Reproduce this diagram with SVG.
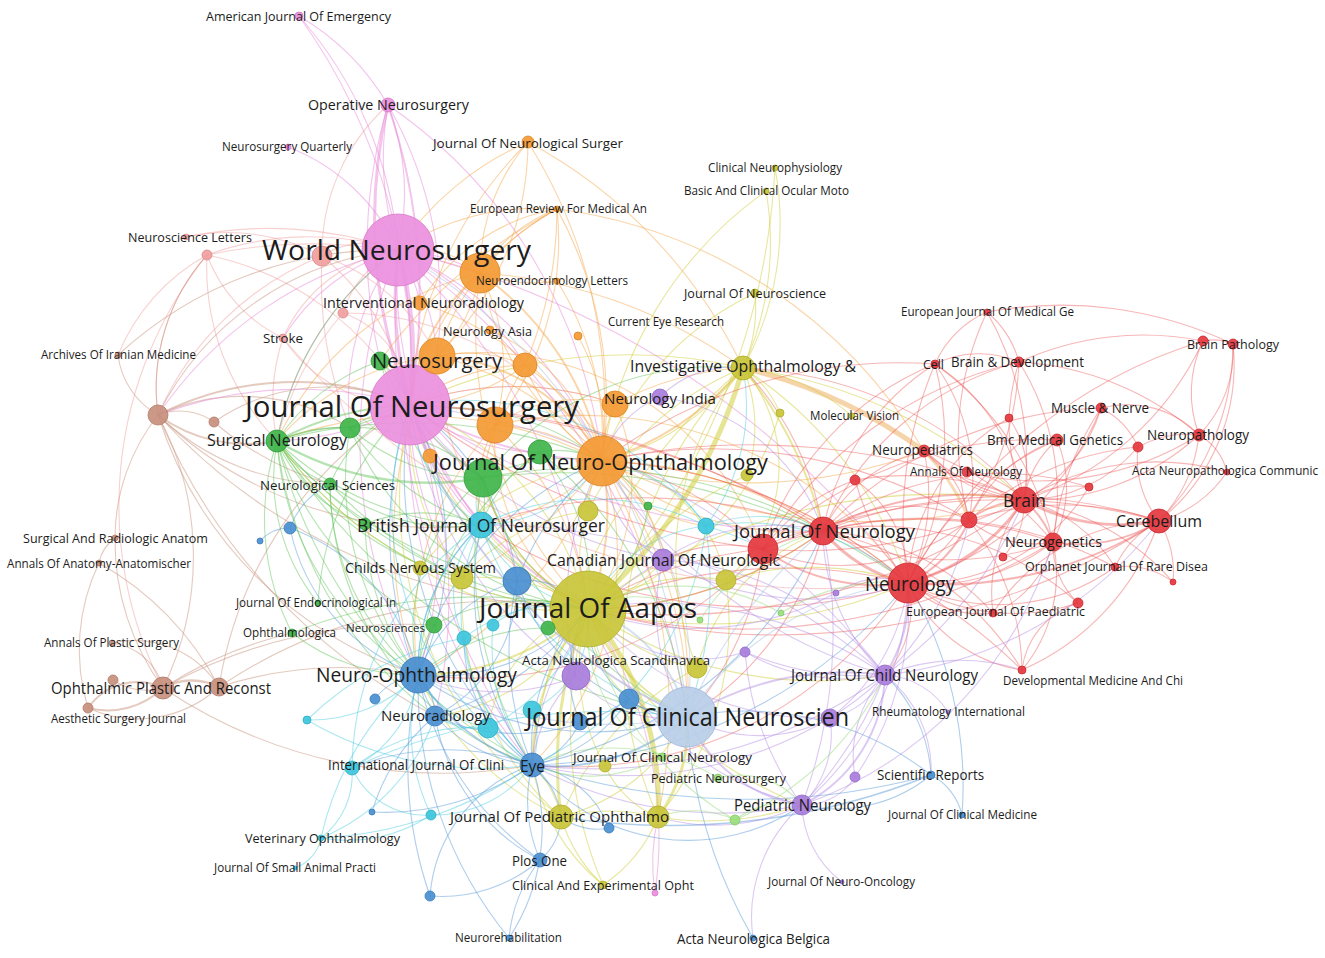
<svg xmlns="http://www.w3.org/2000/svg" width="1325" height="958" viewBox="0 0 1325 958">
<style>
.e path{fill:none;stroke-width:1.1;stroke-linecap:round}
.pk path{stroke:#e88ad9;stroke-opacity:.5}
.or path{stroke:#f4a240;stroke-opacity:.45}
.gr path{stroke:#5cc052;stroke-opacity:.45}
.ye path{stroke:#d2cf3e;stroke-opacity:.5}
.rd path{stroke:#ec5050;stroke-opacity:.42}
.bl path{stroke:#4d92d4;stroke-opacity:.45}
.cy path{stroke:#48c9de;stroke-opacity:.45}
.pu path{stroke:#b288e2;stroke-opacity:.45}
.lb path{stroke:#a9c4e6;stroke-opacity:.5}
.br path{stroke:#c9957f;stroke-opacity:.5}
.sa path{stroke:#f2a3a3;stroke-opacity:.5}
.lg path{stroke:#98dc7c;stroke-opacity:.5}
.n circle{stroke-width:.8;fill-opacity:.92}
.c-pk{fill:#ec90de;stroke:#d877c8}
.c-or{fill:#f49a34;stroke:#dc8420}
.c-gr{fill:#3fb54a;stroke:#2f9c3a}
.c-ye{fill:#c9c53a;stroke:#b0ac28}
.c-rd{fill:#e5383f;stroke:#c9282f}
.c-bl{fill:#4a8fd0;stroke:#3a78b8}
.c-cy{fill:#3dc6dc;stroke:#2aaec4}
.c-pu{fill:#a97ddc;stroke:#9066c4}
.c-lb{fill:#b9cee8;stroke:#9fb8da}
.c-brn{fill:#c8907e;stroke:#b07866}
.c-sa{fill:#f0a0a0;stroke:#dc8888}
.c-lg{fill:#9ade7c;stroke:#80c864}
.lbl text{font-family:"Open Sans","Noto Sans","DejaVu Sans",sans-serif;fill:#1c1c1c}
</style>
<rect width="1325" height="958" fill="#ffffff"/>
<g id="connectors" class="e">
<g class="sa">
<path d="M207 255A300 300 0 0 1 398 250"/><path d="M207 255A300 300 0 0 1 410 405"/><path d="M207 255A200 200 0 0 0 158 415"/><path d="M207 255A150 150 0 0 0 283 338"/><path d="M283 338A150 150 0 0 1 398 250"/><path d="M283 338A150 150 0 0 0 410 405"/><path d="M343 313A100 100 0 0 1 398 250"/><path d="M322 256A80 80 0 0 1 398 250"/><path d="M322 256A250 250 0 0 1 410 405"/><path d="M186 237A200 200 0 0 1 322 256"/><path d="M207 255A250 250 0 0 0 277 441"/><path d="M186 237A400 400 0 0 1 398 250"/><path d="M322 256A200 200 0 0 1 437 356"/><path d="M343 313A100 100 0 0 1 410 405"/><path d="M207 255A200 200 0 0 0 118 355"/><path d="M322 256A200 200 0 0 1 388 105"/><path d="M207 255A400 400 0 0 0 163 688"/><path d="M283 338A200 200 0 0 0 277 441"/><path d="M343 313A300 300 0 0 0 277 441"/><path d="M322 256A300 300 0 0 0 158 415"/><path d="M283 338A700 700 0 0 0 908 583"/><path d="M343 313A300 300 0 0 1 602 461"/><path d="M322 256A400 400 0 0 0 350 428"/><path d="M207 255A500 500 0 0 1 480 273"/>
</g>
<g class="br">
<path d="M158 415A300 300 0 0 1 410 405" style="stroke-width:2"/><path d="M158 415A300 300 0 0 1 398 250"/><path d="M158 415A150 150 0 0 0 277 441" style="stroke-width:2"/><path d="M158 415A80 80 0 0 1 118 355"/><path d="M158 415A60 60 0 0 1 214 422"/><path d="M158 415A400 400 0 0 0 418 675"/><path d="M158 415A600 600 0 0 0 588 609"/><path d="M158 415A300 300 0 0 1 163 688"/><path d="M163 688A60 60 0 0 1 219 687" style="stroke-width:2.5"/><path d="M163 688A80 80 0 0 1 88 708" style="stroke-width:2"/><path d="M163 688A60 60 0 0 0 88 708" style="stroke-width:2"/><path d="M163 688A60 60 0 0 0 112 643"/><path d="M163 688A60 60 0 0 1 113 680"/><path d="M163 688A250 250 0 0 1 115 538"/><path d="M115 538A40 40 0 0 0 99 563"/><path d="M99 563A200 200 0 0 0 88 708"/><path d="M219 687A400 400 0 0 1 418 675"/><path d="M219 687A400 400 0 0 1 410 405"/><path d="M163 688A500 500 0 0 1 434 625"/><path d="M163 688A500 500 0 0 0 532 765"/><path d="M112 643A100 100 0 0 1 219 687"/><path d="M115 538A200 200 0 0 1 158 415"/><path d="M158 415A400 400 0 0 0 481 525"/><path d="M158 415A200 200 0 0 1 207 255"/><path d="M88 708A120 120 0 0 0 219 687"/><path d="M158 415A600 600 0 0 0 435 716"/><path d="M219 687A500 500 0 0 1 588 609"/><path d="M118 355A400 400 0 0 1 398 250"/><path d="M214 422A200 200 0 0 1 410 405"/><path d="M163 688A400 400 0 0 1 292 633"/><path d="M214 422A300 300 0 0 0 330 484"/><path d="M99 563A300 300 0 0 1 219 687"/><path d="M158 415A250 250 0 0 0 330 484"/><path d="M158 415A200 200 0 0 1 350 428"/>
</g>
<g class="pk">
<path d="M388 105A300 300 0 0 0 398 250"/><path d="M388 105A500 500 0 0 0 410 405" style="stroke-width:3"/><path d="M388 105A600 600 0 0 1 410 405" style="stroke-width:2"/><path d="M299 16A250 250 0 0 1 388 105"/><path d="M299 16A400 400 0 0 1 398 250"/><path d="M288 147A200 200 0 0 1 398 250"/><path d="M398 250A400 400 0 0 1 410 405" style="stroke-width:5"/><path d="M398 250A400 400 0 0 0 410 405" style="stroke-width:3"/><path d="M398 250A400 400 0 0 1 602 461"/><path d="M398 250A200 200 0 0 1 480 273"/><path d="M398 250A200 200 0 0 1 437 356"/><path d="M410 405A400 400 0 0 0 602 461" style="stroke-width:2"/><path d="M410 405A400 400 0 0 0 588 609" style="stroke-width:2"/><path d="M410 405A500 500 0 0 0 687 717"/><path d="M410 405A300 300 0 0 1 277 441"/><path d="M410 405A400 400 0 0 1 418 675"/><path d="M398 250A300 300 0 0 0 277 441"/><path d="M398 250A700 700 0 0 1 687 717"/><path d="M398 250A400 400 0 0 0 158 415"/><path d="M410 405A400 400 0 0 0 158 415"/><path d="M655 893A200 200 0 0 1 658 817"/><path d="M655 893A400 400 0 0 0 588 609"/><path d="M398 250A200 200 0 0 0 283 338"/><path d="M410 405A300 300 0 0 1 615 404"/><path d="M388 105A400 400 0 0 1 437 356"/><path d="M398 250A150 150 0 0 1 420 303"/><path d="M388 105A250 250 0 0 1 398 250"/><path d="M398 250A800 800 0 0 0 532 765"/><path d="M410 405A500 500 0 0 0 532 765"/><path d="M299 16A600 600 0 0 1 410 405"/><path d="M398 250A900 900 0 0 1 908 583"/><path d="M388 105A500 500 0 0 0 380 361"/><path d="M398 250A300 300 0 0 1 525 365"/><path d="M410 405A300 300 0 0 0 481 525"/><path d="M410 405A200 200 0 0 0 483 478"/><path d="M398 250A250 250 0 0 0 350 428"/><path d="M410 405A700 700 0 0 0 823 531"/><path d="M410 405A300 300 0 0 0 462 578"/><path d="M410 405A300 300 0 0 1 517 581"/><path d="M410 405A500 500 0 0 1 435 716"/><path d="M398 250A500 500 0 0 0 418 675"/><path d="M398 250A600 600 0 0 1 588 609"/><path d="M398 250A400 400 0 0 0 481 525"/><path d="M410 405A200 200 0 0 0 540 452"/><path d="M388 105A500 500 0 0 1 602 461"/>
</g>
<g class="or">
<path d="M602 461A300 300 0 0 1 480 273"/><path d="M602 461A300 300 0 0 0 437 356"/><path d="M602 461A200 200 0 0 1 525 365"/><path d="M602 461A200 200 0 0 0 495 425"/><path d="M602 461A150 150 0 0 1 615 404"/><path d="M602 461A300 300 0 0 0 743 368" style="stroke-width:2"/><path d="M602 461A250 250 0 0 1 588 609" style="stroke-width:2"/><path d="M602 461A400 400 0 0 1 687 717"/><path d="M602 461A400 400 0 0 1 823 531"/><path d="M602 461A500 500 0 0 1 908 583"/><path d="M528 142A300 300 0 0 0 398 250"/><path d="M528 142A400 400 0 0 0 410 405"/><path d="M528 142A200 200 0 0 0 480 273"/><path d="M528 142A300 300 0 0 1 437 356"/><path d="M528 142A500 500 0 0 1 602 461"/><path d="M557 209A150 150 0 0 0 480 273"/><path d="M557 209A400 400 0 0 1 602 461"/><path d="M557 209A250 250 0 0 0 437 356"/><path d="M557 209A300 300 0 0 0 410 405"/><path d="M557 209A300 300 0 0 1 495 425"/><path d="M557 209A200 200 0 0 0 420 303"/><path d="M557 209A250 250 0 0 0 398 250"/><path d="M557 209A400 400 0 0 1 525 365"/><path d="M557 209A500 500 0 0 0 380 361"/><path d="M480 273A150 150 0 0 1 437 356"/><path d="M480 273A200 200 0 0 1 495 425"/><path d="M480 273A200 200 0 0 0 410 405" style="stroke-width:2"/><path d="M525 365A150 150 0 0 0 437 356"/><path d="M525 365A200 200 0 0 1 410 405"/><path d="M615 404A150 150 0 0 0 495 425"/><path d="M615 404A300 300 0 0 0 410 405"/><path d="M490 330A200 200 0 0 1 602 461"/><path d="M420 303A300 300 0 0 1 602 461"/><path d="M578 336A200 200 0 0 1 602 461"/><path d="M430 456A100 100 0 0 1 410 405"/><path d="M430 456A300 300 0 0 0 588 609"/><path d="M743 368A500 500 0 0 1 924 451" style="stroke:#f0b870;stroke-width:5;stroke-opacity:.6"/><path d="M924 451A200 200 0 0 1 969 520" style="stroke:#f0b870;stroke-width:3;stroke-opacity:.5"/><path d="M602 461A500 500 0 0 0 924 451"/><path d="M602 461A400 400 0 0 0 277 441"/><path d="M437 356A250 250 0 0 0 277 441"/><path d="M602 461A400 400 0 0 1 418 675"/><path d="M480 273A100 100 0 0 0 398 250"/><path d="M557 281A150 150 0 0 1 480 273"/><path d="M557 281A300 300 0 0 1 602 461"/><path d="M495 425A300 300 0 0 1 588 609"/><path d="M602 461A500 500 0 0 1 658 817"/><path d="M602 461A200 200 0 0 1 481 525"/><path d="M437 356A300 300 0 0 0 588 609"/><path d="M480 273A300 300 0 0 1 602 461" style="stroke-width:2"/><path d="M437 356A200 200 0 0 1 602 461" style="stroke-width:2"/><path d="M525 365A200 200 0 0 0 410 405"/><path d="M495 425A200 200 0 0 0 588 609"/><path d="M480 273A300 300 0 0 0 277 441"/><path d="M528 142A500 500 0 0 1 743 368"/><path d="M557 209A500 500 0 0 1 924 451"/><path d="M602 461A600 600 0 0 0 1024 500"/><path d="M615 404A300 300 0 0 1 743 368"/><path d="M480 273A500 500 0 0 1 743 368"/><path d="M437 356A400 400 0 0 0 418 675"/><path d="M495 425A300 300 0 0 0 418 675"/><path d="M525 365A400 400 0 0 1 687 717"/><path d="M602 461A300 300 0 0 1 532 765"/><path d="M602 461A150 150 0 0 1 663 560"/><path d="M602 461A150 150 0 0 0 706 526"/><path d="M495 425A150 150 0 0 0 481 525"/><path d="M480 273A400 400 0 0 0 588 609"/><path d="M602 461A300 300 0 0 0 823 531"/><path d="M525 365A300 300 0 0 0 483 478"/><path d="M615 404A200 200 0 0 1 588 609"/><path d="M437 356A300 300 0 0 1 763 549"/><path d="M495 425A400 400 0 0 1 908 583"/><path d="M602 461A400 400 0 0 1 462 578"/>
</g>
<g class="gr">
<path d="M277 441A300 300 0 0 1 410 405" style="stroke-width:2"/><path d="M277 441A150 150 0 0 1 350 428"/><path d="M277 441A200 200 0 0 1 380 361"/><path d="M277 441A300 300 0 0 0 483 478" style="stroke-width:2.5"/><path d="M277 441A100 100 0 0 0 330 484"/><path d="M277 441A300 300 0 0 0 481 525"/><path d="M277 441A400 400 0 0 0 588 609"/><path d="M277 441A300 300 0 0 0 418 675"/><path d="M277 441A500 500 0 0 1 602 461"/><path d="M277 441A300 300 0 0 0 462 578"/><path d="M277 441A150 150 0 0 0 365 524"/><path d="M277 441A300 300 0 0 0 434 625"/><path d="M277 441A500 500 0 0 0 532 765"/><path d="M277 441A600 600 0 0 0 687 717"/><path d="M350 428A200 200 0 0 0 483 478"/><path d="M483 478A200 200 0 0 1 602 461"/><path d="M483 478A200 200 0 0 0 588 609"/><path d="M540 452A100 100 0 0 1 602 461"/><path d="M540 452A200 200 0 0 1 588 609"/><path d="M330 484A150 150 0 0 1 410 405"/><path d="M330 484A400 400 0 0 0 588 609"/><path d="M330 484A250 250 0 0 0 418 675"/><path d="M365 524A150 150 0 0 1 481 525"/><path d="M434 625A200 200 0 0 1 588 609"/><path d="M434 625A100 100 0 0 0 418 675"/><path d="M292 633A200 200 0 0 0 418 675"/><path d="M292 633A500 500 0 0 1 588 609"/><path d="M318 603A300 300 0 0 1 410 405"/><path d="M548 628A100 100 0 0 1 588 609"/><path d="M483 478A400 400 0 0 0 687 717"/><path d="M380 361A100 100 0 0 1 410 405"/><path d="M350 428A300 300 0 0 0 418 675"/><path d="M483 478A600 600 0 0 1 908 583"/><path d="M483 478A400 400 0 0 0 532 765"/><path d="M277 441A300 300 0 0 1 398 250"/><path d="M540 452A400 400 0 0 1 687 717"/><path d="M330 484A200 200 0 0 0 481 525"/><path d="M277 441A250 250 0 0 0 292 633"/><path d="M277 441A400 400 0 0 0 435 716"/><path d="M350 428A250 250 0 0 0 481 525"/><path d="M277 441A400 400 0 0 0 517 581"/><path d="M350 428A250 250 0 0 1 602 461"/><path d="M483 478A300 300 0 0 1 743 368"/><path d="M540 452A300 300 0 0 0 418 675"/><path d="M648 506A150 150 0 0 1 588 609"/><path d="M380 361A300 300 0 0 0 483 478"/><path d="M277 441A200 200 0 0 0 318 603"/><path d="M365 524A250 250 0 0 0 418 675"/><path d="M277 441A500 500 0 0 0 462 578"/><path d="M483 478A500 500 0 0 1 823 531"/><path d="M483 478A200 200 0 0 0 418 675"/><path d="M483 478A150 150 0 0 1 462 578"/><path d="M540 452A150 150 0 0 0 481 525"/><path d="M350 428A300 300 0 0 0 588 609"/><path d="M330 484A300 300 0 0 0 532 765"/><path d="M648 506A150 150 0 0 0 602 461"/><path d="M548 628A200 200 0 0 0 418 675"/><path d="M277 441A200 200 0 0 1 483 478"/><path d="M380 361A400 400 0 0 0 588 609"/><path d="M350 428A150 150 0 0 1 410 405"/>
</g>
<g class="ye">
<path d="M588 609A500 500 0 0 0 743 368" style="stroke-width:5;stroke-opacity:.55"/><path d="M588 609A400 400 0 0 0 561 817" style="stroke-width:3"/><path d="M588 609A300 300 0 0 1 658 817" style="stroke-width:5;stroke-opacity:.55"/><path d="M588 609A150 150 0 0 1 588 511"/><path d="M588 609A200 200 0 0 1 726 580"/><path d="M588 609A200 200 0 0 0 697 668"/><path d="M588 609A200 200 0 0 0 687 717" style="stroke-width:2"/><path d="M588 609A200 200 0 0 0 462 578"/><path d="M588 609A250 250 0 0 1 418 675" style="stroke-width:2"/><path d="M588 609A250 250 0 0 0 532 765" style="stroke-width:2"/><path d="M588 609A400 400 0 0 0 823 531"/><path d="M588 609A500 500 0 0 0 908 583"/><path d="M588 609A150 150 0 0 0 663 560"/><path d="M588 609A400 400 0 0 0 802 805"/><path d="M743 368A300 300 0 0 0 775 168"/><path d="M766 191A300 300 0 0 1 743 368"/><path d="M766 191A400 400 0 0 0 602 461"/><path d="M775 168A700 700 0 0 1 588 609"/><path d="M755 293A150 150 0 0 1 743 368"/><path d="M755 293A300 300 0 0 0 602 461"/><path d="M852 416A200 200 0 0 0 743 368"/><path d="M743 368A100 100 0 0 1 780 413"/><path d="M743 368A150 150 0 0 1 747 475"/><path d="M743 368A250 250 0 0 1 602 461"/><path d="M561 817A100 100 0 0 0 532 765"/><path d="M658 817A100 100 0 0 1 605 766"/><path d="M603 885A150 150 0 0 1 561 817"/><path d="M603 885A400 400 0 0 1 588 609"/><path d="M603 885A200 200 0 0 1 532 765"/><path d="M603 885A150 150 0 0 0 658 817"/><path d="M605 766A200 200 0 0 1 588 609"/><path d="M561 817A200 200 0 0 0 687 717"/><path d="M743 368A400 400 0 0 1 908 583"/><path d="M658 817A150 150 0 0 0 687 717" style="stroke-width:3"/><path d="M561 817A200 200 0 0 1 658 817"/><path d="M588 511A100 100 0 0 1 602 461"/><path d="M462 578A250 250 0 0 1 410 405"/><path d="M420 568A250 250 0 0 0 588 609"/><path d="M743 368A500 500 0 0 0 410 405"/><path d="M743 368A400 400 0 0 1 823 531" style="stroke-width:2"/><path d="M726 580A150 150 0 0 0 743 368"/><path d="M697 668A300 300 0 0 1 743 368"/><path d="M588 609A400 400 0 0 1 747 475"/><path d="M658 817A400 400 0 0 1 743 368"/><path d="M561 817A300 300 0 0 1 418 675"/><path d="M658 817A300 300 0 0 0 726 580"/><path d="M588 609A300 300 0 0 1 481 525"/><path d="M462 578A200 200 0 0 1 588 511"/><path d="M420 568A300 300 0 0 1 602 461"/><path d="M743 368A600 600 0 0 0 532 765"/><path d="M780 413A300 300 0 0 1 588 609"/><path d="M743 368A500 500 0 0 1 1024 500"/><path d="M588 609A300 300 0 0 0 410 405"/><path d="M588 609A200 200 0 0 1 483 478"/><path d="M588 609A200 200 0 0 1 435 716"/><path d="M588 609A150 150 0 0 0 488 728"/><path d="M588 609A120 120 0 0 0 629 699"/><path d="M588 609A400 400 0 0 0 885 675"/><path d="M588 609A400 400 0 0 1 277 441"/><path d="M697 668A200 200 0 0 1 823 531"/><path d="M726 580A300 300 0 0 1 908 583"/><path d="M697 668A300 300 0 0 0 561 817"/><path d="M588 511A300 300 0 0 1 743 368"/><path d="M588 609A600 600 0 0 1 1024 500"/><path d="M561 817A400 400 0 0 1 410 405"/><path d="M658 817A300 300 0 0 0 802 805"/><path d="M462 578A300 300 0 0 0 561 817"/><path d="M726 580A150 150 0 0 0 602 461"/>
</g>
<g class="rd">
<path d="M1024 500A200 200 0 0 0 1159 521" style="stroke-width:3"/><path d="M1024 500A100 100 0 0 1 1053 542" style="stroke-width:2"/><path d="M1024 500A200 200 0 0 1 908 583" style="stroke-width:3"/><path d="M1024 500A300 300 0 0 0 823 531" style="stroke-width:2"/><path d="M1024 500A100 100 0 0 0 969 520" style="stroke-width:2"/><path d="M1024 500A100 100 0 0 1 1057 440"/><path d="M1024 500A150 150 0 0 0 1101 408"/><path d="M1024 500A250 250 0 0 0 1199 435"/><path d="M1024 500A200 200 0 0 1 1019 362"/><path d="M1024 500A200 200 0 0 0 935 364"/><path d="M1024 500A150 150 0 0 1 924 451"/><path d="M1024 500A100 100 0 0 0 967 472"/><path d="M1024 500A100 100 0 0 1 1089 487"/><path d="M1024 500A150 150 0 0 1 1115 567"/><path d="M1024 500A150 150 0 0 0 993 613"/><path d="M1024 500A150 150 0 0 0 1138 447"/><path d="M1024 500A300 300 0 0 0 1203 341"/><path d="M1159 521A150 150 0 0 1 1053 542" style="stroke-width:2"/><path d="M1159 521A400 400 0 0 1 908 583" style="stroke-width:2"/><path d="M1159 521A150 150 0 0 0 1199 435"/><path d="M1159 521A100 100 0 0 1 1138 447"/><path d="M1159 521A120 120 0 0 0 1227 472"/><path d="M1159 521A100 100 0 0 1 1173 582"/><path d="M1159 521A250 250 0 0 0 1233 344"/><path d="M1159 521A500 500 0 0 0 823 531"/><path d="M1159 521A100 100 0 0 0 1115 567"/><path d="M908 583A150 150 0 0 1 823 531" style="stroke-width:3"/><path d="M908 583A200 200 0 0 1 763 549" style="stroke-width:2"/><path d="M908 583A120 120 0 0 0 969 520" style="stroke-width:2"/><path d="M908 583A200 200 0 0 0 1053 542"/><path d="M908 583A100 100 0 0 0 993 613"/><path d="M908 583A150 150 0 0 0 1022 670"/><path d="M908 583A200 200 0 0 0 924 451"/><path d="M908 583A300 300 0 0 0 935 364"/><path d="M908 583A300 300 0 0 0 1019 362"/><path d="M908 583A200 200 0 0 0 1078 603"/><path d="M908 583A500 500 0 0 0 588 609"/><path d="M908 583A900 900 0 0 0 410 405"/><path d="M908 583A500 500 0 0 0 602 461"/><path d="M823 531A100 100 0 0 0 763 549"/><path d="M823 531A150 150 0 0 1 969 520"/><path d="M823 531A250 250 0 0 1 935 364"/><path d="M823 531A150 150 0 0 1 924 451"/><path d="M823 531A800 800 0 0 0 410 405"/><path d="M763 549A700 700 0 0 1 410 405"/><path d="M763 549A300 300 0 0 0 602 461"/><path d="M969 520A100 100 0 0 0 1053 542"/><path d="M969 520A150 150 0 0 1 1057 440"/><path d="M969 520A200 200 0 0 0 935 364"/><path d="M969 520A300 300 0 0 1 987 312"/><path d="M987 312A100 100 0 0 1 1019 362"/><path d="M987 312A100 100 0 0 0 935 364"/><path d="M987 312A300 300 0 0 1 1024 500"/><path d="M1203 341A50 50 0 0 1 1233 344"/><path d="M1203 341A120 120 0 0 0 1199 435"/><path d="M1203 341A300 300 0 0 0 1019 362"/><path d="M1233 344A120 120 0 0 1 1199 435"/><path d="M1233 344A200 200 0 0 1 1159 521"/><path d="M1101 408A100 100 0 0 1 1199 435"/><path d="M1101 408A80 80 0 0 1 1138 447"/><path d="M1057 440A120 120 0 0 1 1053 542"/><path d="M1009 418A100 100 0 0 1 1024 500"/><path d="M1009 418A200 200 0 0 0 908 583"/><path d="M924 451A100 100 0 0 1 969 520"/><path d="M1053 542A100 100 0 0 1 993 613"/><path d="M1053 542A80 80 0 0 0 1078 603"/><path d="M1053 542A150 150 0 0 1 1022 670"/><path d="M1115 567A80 80 0 0 1 1173 582"/><path d="M1003 557A80 80 0 0 0 1024 500"/><path d="M855 480A120 120 0 0 1 908 583"/><path d="M908 583A100 100 0 0 1 885 675"/><path d="M935 364A100 100 0 0 1 1019 362"/><path d="M1019 362A300 300 0 0 1 1199 435"/><path d="M1199 435A60 60 0 0 1 1227 472"/><path d="M1024 500A250 250 0 0 1 1227 472"/><path d="M1199 435A100 100 0 0 0 1138 447"/><path d="M1022 670A80 80 0 0 1 1078 603"/><path d="M935 364A500 500 0 0 0 602 461"/><path d="M1019 362A300 300 0 0 0 823 531"/><path d="M1019 362A250 250 0 0 1 1053 542"/><path d="M935 364A300 300 0 0 1 1053 542"/><path d="M1101 408A300 300 0 0 1 908 583"/><path d="M1057 440A300 300 0 0 0 908 583"/><path d="M969 520A300 300 0 0 1 1159 521"/><path d="M823 531A300 300 0 0 0 1053 542"/><path d="M1203 341A500 500 0 0 0 908 583"/><path d="M1233 344A400 400 0 0 0 987 312"/><path d="M1089 487A200 200 0 0 1 908 583"/><path d="M763 549A400 400 0 0 0 588 609"/><path d="M823 531A400 400 0 0 1 588 609"/><path d="M1024 500A400 400 0 0 0 743 368"/><path d="M1022 670A250 250 0 0 0 1159 521"/><path d="M993 613A200 200 0 0 1 1159 521"/><path d="M924 451A300 300 0 0 1 1053 542"/><path d="M967 472A300 300 0 0 0 1199 435"/><path d="M1115 567A200 200 0 0 1 908 583"/><path d="M1173 582A250 250 0 0 0 1024 500"/><path d="M908 583A600 600 0 0 1 1022 670"/><path d="M935 364A400 400 0 0 0 908 583"/><path d="M1053 542A300 300 0 0 1 1101 408"/><path d="M763 549A300 300 0 0 1 687 717"/><path d="M823 531A300 300 0 0 1 687 717"/><path d="M908 583A400 400 0 0 1 532 765"/><path d="M763 549A150 150 0 0 0 663 560"/><path d="M823 531A300 300 0 0 0 743 368"/><path d="M1024 500A700 700 0 0 0 602 461"/><path d="M1024 500A600 600 0 0 1 588 609"/><path d="M1159 521A700 700 0 0 1 588 609"/><path d="M1053 542A600 600 0 0 1 588 609"/><path d="M908 583A500 500 0 0 1 481 525"/><path d="M823 531A500 500 0 0 0 481 525"/><path d="M969 520A500 500 0 0 0 602 461"/><path d="M763 549A400 400 0 0 1 418 675"/><path d="M855 480A200 200 0 0 0 763 549"/><path d="M855 480A300 300 0 0 1 1024 500"/><path d="M1024 500A500 500 0 0 1 763 549"/><path d="M1159 521A600 600 0 0 0 763 549"/><path d="M969 520A200 200 0 0 1 763 549"/><path d="M1053 542A400 400 0 0 0 823 531"/><path d="M908 583A300 300 0 0 1 855 480"/><path d="M1019 362A400 400 0 0 0 763 549"/><path d="M1101 408A400 400 0 0 0 823 531"/><path d="M993 613A250 250 0 0 0 823 531"/><path d="M1022 670A300 300 0 0 0 823 531"/><path d="M1078 603A300 300 0 0 0 763 549"/><path d="M1057 440A400 400 0 0 0 763 549"/><path d="M935 364A300 300 0 0 0 763 549"/><path d="M1115 567A400 400 0 0 0 823 531"/><path d="M1089 487A300 300 0 0 0 823 531"/><path d="M969 520A250 250 0 0 1 1022 670"/><path d="M924 451A200 200 0 0 0 1024 500"/><path d="M1138 447A300 300 0 0 0 969 520"/>
</g>
<g class="bl">
<path d="M532 765A200 200 0 0 1 418 675" style="stroke-width:2"/><path d="M532 765A150 150 0 0 1 435 716"/><path d="M532 765A200 200 0 0 0 687 717" style="stroke-width:2"/><path d="M532 765A200 200 0 0 1 588 609"/><path d="M532 765A80 80 0 0 1 561 817"/><path d="M532 765A150 150 0 0 0 540 860"/><path d="M532 765A80 80 0 0 0 580 722"/><path d="M532 765A150 150 0 0 0 629 699"/><path d="M532 765A250 250 0 0 0 352 768"/><path d="M532 765A100 100 0 0 1 609 828"/><path d="M532 765A250 250 0 0 1 372 812"/><path d="M532 765A150 150 0 0 0 430 896"/><path d="M532 765A200 200 0 0 1 509 938"/><path d="M418 675A60 60 0 0 1 435 716"/><path d="M418 675A150 150 0 0 1 517 581"/><path d="M418 675A300 300 0 0 0 410 405"/><path d="M418 675A200 200 0 0 1 290 528"/><path d="M418 675A60 60 0 0 0 375 699"/><path d="M418 675A300 300 0 0 0 687 717"/><path d="M435 716A400 400 0 0 1 410 405"/><path d="M435 716A150 150 0 0 0 517 581"/><path d="M290 528A40 40 0 0 0 260 541"/><path d="M290 528A80 80 0 0 1 330 484"/><path d="M517 581A80 80 0 0 1 588 609"/><path d="M517 581A250 250 0 0 0 410 405"/><path d="M540 860A60 60 0 0 0 561 817"/><path d="M540 860A150 150 0 0 0 509 938"/><path d="M540 860A150 150 0 0 1 430 896"/><path d="M629 699A80 80 0 0 0 687 717"/><path d="M931 775A300 300 0 0 0 687 717"/><path d="M931 775A150 150 0 0 0 885 675"/><path d="M931 775A150 150 0 0 1 802 805"/><path d="M962 815A60 60 0 0 0 931 775"/><path d="M962 815A400 400 0 0 0 908 583"/><path d="M561 817A700 700 0 0 0 931 775" style="stroke-width:1.6"/><path d="M753 938A500 500 0 0 1 687 717"/><path d="M609 828A60 60 0 0 1 561 817"/><path d="M532 765A700 700 0 0 0 931 775"/><path d="M430 896A400 400 0 0 1 418 675"/><path d="M372 812A200 200 0 0 1 435 716"/><path d="M629 699A100 100 0 0 1 588 609"/><path d="M580 722A120 120 0 0 1 588 609"/><path d="M532 765A300 300 0 0 1 481 525"/><path d="M532 765A400 400 0 0 1 410 405"/><path d="M418 675A300 300 0 0 1 602 461"/><path d="M532 765A150 150 0 0 1 464 638"/><path d="M540 860A200 200 0 0 1 435 716"/><path d="M532 765A500 500 0 0 0 908 583"/><path d="M418 675A200 200 0 0 0 588 609"/><path d="M435 716A300 300 0 0 0 588 609"/><path d="M517 581A300 300 0 0 1 602 461"/><path d="M509 938A400 400 0 0 1 418 675"/><path d="M290 528A200 200 0 0 1 418 675"/><path d="M532 765A300 300 0 0 1 517 581"/><path d="M418 675A200 200 0 0 1 481 525"/><path d="M532 765A400 400 0 0 0 823 531"/><path d="M517 581A200 200 0 0 0 687 717"/><path d="M435 716A200 200 0 0 0 629 699"/><path d="M532 765A200 200 0 0 0 802 805"/><path d="M540 860A300 300 0 0 1 418 675"/>
</g>
<g class="cy">
<path d="M481 525A150 150 0 0 1 410 405"/><path d="M481 525A150 150 0 0 0 602 461"/><path d="M481 525A150 150 0 0 0 588 609"/><path d="M481 525A100 100 0 0 0 464 638"/><path d="M481 525A200 200 0 0 0 418 675"/><path d="M481 525A50 50 0 0 1 483 478"/><path d="M706 526A150 150 0 0 1 823 531"/><path d="M706 526A150 150 0 0 0 588 609"/><path d="M706 526A150 150 0 0 0 602 461"/><path d="M464 638A80 80 0 0 1 418 675"/><path d="M488 728A80 80 0 0 0 532 765"/><path d="M488 728A80 80 0 0 1 435 716"/><path d="M488 728A100 100 0 0 1 418 675"/><path d="M352 768A120 120 0 0 0 418 675"/><path d="M352 768A80 80 0 0 0 431 815"/><path d="M352 768A80 80 0 0 1 321 838"/><path d="M321 838A150 150 0 0 0 431 815"/><path d="M321 838A40 40 0 0 1 295 868"/><path d="M321 838A200 200 0 0 0 435 716"/><path d="M321 838A400 400 0 0 0 532 765"/><path d="M431 815A120 120 0 0 0 532 765"/><path d="M307 720A150 150 0 0 0 418 675"/><path d="M307 720A350 350 0 0 0 532 765"/><path d="M532 710A80 80 0 0 1 532 765"/><path d="M532 710A100 100 0 0 0 588 609"/><path d="M493 625A100 100 0 0 1 588 609"/><path d="M352 768A600 600 0 0 1 687 717"/><path d="M464 638A150 150 0 0 1 588 609"/><path d="M706 526A250 250 0 0 1 908 583"/><path d="M481 525A300 300 0 0 0 687 717"/><path d="M352 768A200 200 0 0 1 488 728"/><path d="M307 720A300 300 0 0 1 464 638"/><path d="M706 526A300 300 0 0 1 532 765"/><path d="M488 728A200 200 0 0 0 588 609"/><path d="M321 838A300 300 0 0 1 418 675"/><path d="M431 815A200 200 0 0 1 418 675"/><path d="M352 768A300 300 0 0 1 481 525"/><path d="M706 526A300 300 0 0 0 410 405"/><path d="M706 526A200 200 0 0 0 743 368"/><path d="M706 526A300 300 0 0 1 763 549"/><path d="M706 526A400 400 0 0 1 687 717"/><path d="M481 525A200 200 0 0 0 532 765"/><path d="M464 638A200 200 0 0 0 532 765"/><path d="M488 728A300 300 0 0 1 410 405"/><path d="M493 625A200 200 0 0 0 532 765"/><path d="M706 526A250 250 0 0 0 481 525"/>
</g>
<g class="pu">
<path d="M885 675A150 150 0 0 0 908 583" style="stroke-width:2"/><path d="M885 675A150 150 0 0 1 802 805" style="stroke-width:2"/><path d="M885 675A80 80 0 0 1 830 718"/><path d="M885 675A300 300 0 0 0 687 717" style="stroke-width:2"/><path d="M885 675A400 400 0 0 0 588 609"/><path d="M885 675A120 120 0 0 1 931 775"/><path d="M885 675A120 120 0 0 0 855 777"/><path d="M885 675A80 80 0 0 1 948 712"/><path d="M802 805A150 150 0 0 1 687 717" style="stroke-width:2"/><path d="M802 805A100 100 0 0 0 830 718"/><path d="M802 805A400 400 0 0 1 532 765"/><path d="M802 805A300 300 0 0 1 588 609"/><path d="M802 805A100 100 0 0 0 842 882"/><path d="M830 718A150 150 0 0 1 687 717"/><path d="M830 718A200 200 0 0 0 908 583"/><path d="M576 676A80 80 0 0 1 588 609"/><path d="M576 676A120 120 0 0 0 687 717"/><path d="M576 676A200 200 0 0 1 418 675"/><path d="M663 560A120 120 0 0 1 602 461"/><path d="M663 560A200 200 0 0 1 823 531"/><path d="M663 560A300 300 0 0 0 908 583"/><path d="M660 397A100 100 0 0 0 602 461"/><path d="M660 397A100 100 0 0 1 743 368"/><path d="M745 652A150 150 0 0 1 588 609"/><path d="M836 593A80 80 0 0 1 908 583"/><path d="M855 777A60 60 0 0 1 802 805"/><path d="M885 675A200 200 0 0 1 823 531"/><path d="M802 805A300 300 0 0 0 908 583"/><path d="M885 675A400 400 0 0 0 1159 521"/><path d="M885 675A200 200 0 0 1 1022 670"/><path d="M885 675A700 700 0 0 0 410 405"/><path d="M576 676A400 400 0 0 1 410 405"/><path d="M885 675A500 500 0 0 1 532 765"/><path d="M802 805A200 200 0 0 1 658 817"/><path d="M830 718A300 300 0 0 1 588 609"/><path d="M885 675A400 400 0 0 0 1024 500"/><path d="M802 805A400 400 0 0 0 1053 542"/><path d="M885 675A300 300 0 0 1 745 652"/><path d="M830 718A300 300 0 0 0 969 520"/><path d="M885 675A500 500 0 0 1 602 461"/><path d="M802 805A500 500 0 0 0 823 531"/><path d="M855 777A300 300 0 0 0 908 583"/><path d="M885 675A600 600 0 0 0 481 525"/><path d="M802 805A150 150 0 0 0 753 938"/><path d="M836 593A300 300 0 0 1 588 609"/><path d="M745 652A200 200 0 0 0 885 675"/><path d="M663 560A200 200 0 0 0 687 717"/><path d="M663 560A250 250 0 0 0 532 765"/><path d="M576 676A150 150 0 0 0 532 765"/><path d="M663 560A400 400 0 0 1 410 405"/><path d="M660 397A200 200 0 0 1 823 531"/><path d="M576 676A300 300 0 0 1 602 461"/><path d="M802 805A400 400 0 0 0 885 675"/><path d="M830 718A400 400 0 0 1 532 765"/><path d="M745 652A300 300 0 0 0 802 805"/><path d="M885 675A300 300 0 0 0 663 560"/>
</g>
<g class="lb">
<path d="M687 717A500 500 0 0 1 410 405" style="stroke-width:2"/><path d="M687 717A150 150 0 0 0 588 609" style="stroke-width:2"/><path d="M687 717A300 300 0 0 1 908 583"/><path d="M687 717A600 600 0 0 0 398 250"/><path d="M687 717A400 400 0 0 1 418 675"/><path d="M687 717A300 300 0 0 0 602 461"/><path d="M687 717A500 500 0 0 1 823 531"/>
</g>
<g class="lg">
<path d="M735 820A80 80 0 0 1 802 805"/><path d="M735 820A100 100 0 0 0 658 817"/><path d="M781 613A200 200 0 0 0 588 609"/><path d="M700 620A100 100 0 0 0 588 609"/><path d="M718 778A200 200 0 0 0 532 765"/><path d="M662 757A150 150 0 0 1 532 765"/><path d="M718 778A80 80 0 0 1 802 805"/><path d="M662 757A150 150 0 0 1 588 609"/><path d="M735 820A300 300 0 0 1 588 609"/><path d="M781 613A200 200 0 0 1 908 583"/><path d="M700 620A200 200 0 0 1 823 531"/><path d="M735 820A300 300 0 0 0 885 675"/>
</g>
</g>
<g id="nodes" class="n">
<g id="n-jns"><circle class="c-pk" cx="410" cy="405" r="40"/></g>
<g id="n-aapos"><circle class="c-ye" cx="588" cy="609" r="38"/></g>
<g id="n-wn"><circle class="c-pk" cx="398" cy="250" r="36"/></g>
<g id="n-jcns"><circle class="c-lb" cx="687" cy="717" r="30"/></g>
<g id="n-jno"><circle class="c-or" cx="602" cy="461" r="25"/></g>
<g id="n-o1"><circle class="c-or" cx="480" cy="273" r="20"/></g>
<g id="n-neurology"><circle class="c-rd" cx="908" cy="583" r="20"/></g>
<g id="n-g2"><circle class="c-gr" cx="483" cy="478" r="19"/></g>
<g id="n-nso"><circle class="c-or" cx="437" cy="356" r="18"/></g>
<g id="n-o3"><circle class="c-or" cx="495" cy="425" r="18"/></g>
<g id="n-no"><circle class="c-bl" cx="418" cy="675" r="18"/></g>
<g id="n-r1"><circle class="c-rd" cx="763" cy="549" r="15"/></g>
<g id="n-jneurol"><circle class="c-rd" cx="823" cy="531" r="14"/></g>
<g id="n-b1"><circle class="c-bl" cx="517" cy="581" r="14"/></g>
<g id="n-p1"><circle class="c-pu" cx="576" cy="676" r="14"/></g>
<g id="n-ni"><circle class="c-or" cx="615" cy="404" r="13"/></g>
<g id="n-bjn"><circle class="c-cy" cx="481" cy="525" r="13"/></g>
<g id="n-brain"><circle class="c-rd" cx="1024" cy="500" r="13"/></g>
<g id="n-o2"><circle class="c-or" cx="525" cy="365" r="12"/></g>
<g id="n-g3"><circle class="c-gr" cx="540" cy="452" r="12"/></g>
<g id="n-iov"><circle class="c-ye" cx="743" cy="368" r="12"/></g>
<g id="n-jpo1"><circle class="c-ye" cx="561" cy="817" r="12"/></g>
<g id="n-eye"><circle class="c-bl" cx="532" cy="765" r="12"/></g>
<g id="n-cer"><circle class="c-rd" cx="1159" cy="521" r="12"/></g>
<g id="n-sn"><circle class="c-gr" cx="277" cy="441" r="11"/></g>
<g id="n-cns"><circle class="c-ye" cx="462" cy="578" r="11"/></g>
<g id="n-jpo2"><circle class="c-ye" cx="658" cy="817" r="11"/></g>
<g id="n-cjn"><circle class="c-pu" cx="663" cy="560" r="11"/></g>
<g id="n-opr1"><circle class="c-brn" cx="163" cy="688" r="11"/></g>
<g id="n-g1"><circle class="c-gr" cx="350" cy="428" r="10"/></g>
<g id="n-y1"><circle class="c-ye" cx="588" cy="511" r="10"/></g>
<g id="n-y2"><circle class="c-ye" cx="726" cy="580" r="10"/></g>
<g id="n-y3"><circle class="c-ye" cx="697" cy="668" r="10"/></g>
<g id="n-nr"><circle class="c-bl" cx="435" cy="716" r="10"/></g>
<g id="n-b2"><circle class="c-bl" cx="629" cy="699" r="10"/></g>
<g id="n-c3"><circle class="c-cy" cx="488" cy="728" r="10"/></g>
<g id="n-jcn2"><circle class="c-pu" cx="885" cy="675" r="10"/></g>
<g id="n-pn"><circle class="c-pu" cx="802" cy="805" r="10"/></g>
<g id="n-br1"><circle class="c-brn" cx="158" cy="415" r="10"/></g>
<g id="n-s2"><circle class="c-sa" cx="322" cy="256" r="10"/></g>
<g id="n-nsg"><circle class="c-gr" cx="380" cy="361" r="9"/></g>
<g id="n-ngn"><circle class="c-rd" cx="1053" cy="542" r="9"/></g>
<g id="n-c7"><circle class="c-cy" cx="532" cy="710" r="9"/></g>
<g id="n-p2"><circle class="c-pu" cx="830" cy="718" r="9"/></g>
<g id="n-opr2"><circle class="c-brn" cx="219" cy="687" r="9"/></g>
<g id="n-nsc"><circle class="c-gr" cx="434" cy="625" r="8"/></g>
<g id="n-cns2"><circle class="c-ye" cx="420" cy="568" r="7"/></g>
<g id="n-r2"><circle class="c-rd" cx="969" cy="520" r="8"/></g>
<g id="n-b3"><circle class="c-bl" cx="580" cy="722" r="8"/></g>
<g id="n-c1"><circle class="c-cy" cx="706" cy="526" r="8"/></g>
<g id="n-pni"><circle class="c-pu" cx="660" cy="397" r="8"/></g>
<g id="n-on"><circle class="c-pk" cx="388" cy="105" r="7"/></g>
<g id="n-in"><circle class="c-or" cx="420" cy="303" r="7"/></g>
<g id="n-o5"><circle class="c-or" cx="430" cy="456" r="7"/></g>
<g id="n-g5"><circle class="c-gr" cx="548" cy="628" r="7"/></g>
<g id="n-po"><circle class="c-bl" cx="540" cy="860" r="7"/></g>
<g id="n-c2"><circle class="c-cy" cx="464" cy="638" r="7"/></g>
<g id="n-ijc"><circle class="c-cy" cx="352" cy="768" r="7"/></g>
<g id="n-jnsurg"><circle class="c-or" cx="528" cy="142" r="6"/></g>
<g id="n-ns"><circle class="c-gr" cx="330" cy="484" r="6"/></g>
<g id="n-g4"><circle class="c-gr" cx="365" cy="524" r="6"/></g>
<g id="n-y4"><circle class="c-ye" cx="605" cy="766" r="6"/></g>
<g id="n-y6"><circle class="c-ye" cx="747" cy="475" r="6"/></g>
<g id="n-np"><circle class="c-rd" cx="1199" cy="435" r="6"/></g>
<g id="n-bmc"><circle class="c-rd" cx="1057" cy="440" r="6"/></g>
<g id="n-nped"><circle class="c-rd" cx="924" cy="451" r="6"/></g>
<g id="n-b5"><circle class="c-bl" cx="290" cy="528" r="6"/></g>
<g id="n-c4"><circle class="c-cy" cx="493" cy="625" r="6"/></g>
<g id="n-bd"><circle class="c-rd" cx="1019" cy="362" r="5"/></g>
<g id="n-bp1"><circle class="c-rd" cx="1203" cy="341" r="5"/></g>
<g id="n-bp2"><circle class="c-rd" cx="1233" cy="344" r="5"/></g>
<g id="n-mn"><circle class="c-rd" cx="1101" cy="408" r="5"/></g>
<g id="n-ann"><circle class="c-rd" cx="967" cy="472" r="5"/></g>
<g id="n-r3"><circle class="c-rd" cx="1138" cy="447" r="5"/></g>
<g id="n-r7"><circle class="c-rd" cx="1078" cy="603" r="5"/></g>
<g id="n-r9"><circle class="c-rd" cx="855" cy="480" r="5"/></g>
<g id="n-b4"><circle class="c-bl" cx="430" cy="896" r="5"/></g>
<g id="n-b7"><circle class="c-bl" cx="375" cy="699" r="5"/></g>
<g id="n-b9"><circle class="c-bl" cx="609" cy="828" r="5"/></g>
<g id="n-c5"><circle class="c-cy" cx="431" cy="815" r="5"/></g>
<g id="n-p3"><circle class="c-pu" cx="745" cy="652" r="5"/></g>
<g id="n-p5"><circle class="c-pu" cx="855" cy="777" r="5"/></g>
<g id="n-br2"><circle class="c-brn" cx="214" cy="422" r="5"/></g>
<g id="n-asj"><circle class="c-brn" cx="88" cy="708" r="5"/></g>
<g id="n-br3"><circle class="c-brn" cx="113" cy="680" r="5"/></g>
<g id="n-nl"><circle class="c-sa" cx="207" cy="255" r="5"/></g>
<g id="n-s1"><circle class="c-sa" cx="343" cy="313" r="5"/></g>
<g id="n-lg1"><circle class="c-lg" cx="735" cy="820" r="5"/></g>
<g id="n-aje"><circle class="c-pk" cx="299" cy="16" r="4"/></g>
<g id="n-na"><circle class="c-or" cx="490" cy="330" r="4"/></g>
<g id="n-o4"><circle class="c-or" cx="578" cy="336" r="4"/></g>
<g id="n-oph"><circle class="c-gr" cx="292" cy="633" r="4"/></g>
<g id="n-g6"><circle class="c-gr" cx="648" cy="506" r="4"/></g>
<g id="n-jnsci"><circle class="c-ye" cx="755" cy="293" r="4"/></g>
<g id="n-y5"><circle class="c-ye" cx="780" cy="413" r="4"/></g>
<g id="n-ceo"><circle class="c-ye" cx="603" cy="885" r="4"/></g>
<g id="n-cell"><circle class="c-rd" cx="935" cy="364" r="4"/></g>
<g id="n-r4"><circle class="c-rd" cx="1009" cy="418" r="4"/></g>
<g id="n-orph"><circle class="c-rd" cx="1115" cy="567" r="4"/></g>
<g id="n-r6"><circle class="c-rd" cx="1089" cy="487" r="4"/></g>
<g id="n-ejp"><circle class="c-rd" cx="993" cy="613" r="4"/></g>
<g id="n-r8"><circle class="c-rd" cx="1003" cy="557" r="4"/></g>
<g id="n-dev"><circle class="c-rd" cx="1022" cy="670" r="4"/></g>
<g id="n-sr"><circle class="c-bl" cx="931" cy="775" r="4"/></g>
<g id="n-c6"><circle class="c-cy" cx="307" cy="720" r="4"/></g>
<g id="n-pns"><circle class="c-lg" cx="718" cy="778" r="4"/></g>
<g id="n-jcnl"><circle class="c-lg" cx="662" cy="757" r="4"/></g>
<g id="n-stk"><circle class="c-sa" cx="283" cy="338" r="4"/></g>
<g id="n-nq"><circle class="c-pk" cx="288" cy="147" r="3"/></g>
<g id="n-pk1"><circle class="c-pk" cx="655" cy="893" r="3"/></g>
<g id="n-erm"><circle class="c-or" cx="557" cy="209" r="3"/></g>
<g id="n-nel"><circle class="c-or" cx="557" cy="281" r="3"/></g>
<g id="n-jei"><circle class="c-gr" cx="318" cy="603" r="3"/></g>
<g id="n-cnp"><circle class="c-ye" cx="775" cy="168" r="3"/></g>
<g id="n-bco"><circle class="c-ye" cx="766" cy="191" r="3"/></g>
<g id="n-mv"><circle class="c-ye" cx="852" cy="416" r="3"/></g>
<g id="n-ejmg"><circle class="c-rd" cx="987" cy="312" r="3"/></g>
<g id="n-anc"><circle class="c-rd" cx="1227" cy="472" r="3"/></g>
<g id="n-r5"><circle class="c-rd" cx="1173" cy="582" r="3"/></g>
<g id="n-b6"><circle class="c-bl" cx="260" cy="541" r="3"/></g>
<g id="n-b8"><circle class="c-bl" cx="372" cy="812" r="3"/></g>
<g id="n-jcm"><circle class="c-bl" cx="962" cy="815" r="3"/></g>
<g id="n-nrh"><circle class="c-bl" cx="509" cy="938" r="3"/></g>
<g id="n-anb"><circle class="c-bl" cx="753" cy="938" r="3"/></g>
<g id="n-vo"><circle class="c-cy" cx="321" cy="838" r="3"/></g>
<g id="n-p4"><circle class="c-pu" cx="836" cy="593" r="3"/></g>
<g id="n-aim"><circle class="c-brn" cx="118" cy="355" r="3"/></g>
<g id="n-aps"><circle class="c-brn" cx="112" cy="643" r="3"/></g>
<g id="n-sra"><circle class="c-brn" cx="115" cy="538" r="3"/></g>
<g id="n-aaa"><circle class="c-brn" cx="99" cy="563" r="3"/></g>
<g id="n-nld"><circle class="c-sa" cx="186" cy="237" r="3"/></g>
<g id="n-lg2"><circle class="c-lg" cx="781" cy="613" r="3"/></g>
<g id="n-lg3"><circle class="c-lg" cx="700" cy="620" r="3"/></g>
<g id="n-jsap"><circle class="c-cy" cx="295" cy="868" r="2"/></g>
<g id="n-nonc"><circle class="c-pu" cx="842" cy="882" r="2"/></g>
<g id="n-ri"><circle class="c-pu" cx="948" cy="712" r="2"/></g>
</g>
<g id="labels" class="lbl">
<text x="206" y="20.5" font-size="12.5" textLength="185" lengthAdjust="spacingAndGlyphs">American Journal Of Emergency</text>
<text x="308" y="110.2" font-size="14.5" textLength="161" lengthAdjust="spacingAndGlyphs">Operative Neurosurgery</text>
<text x="222" y="151.3" font-size="12" textLength="130" lengthAdjust="spacingAndGlyphs">Neurosurgery Quarterly</text>
<text x="433" y="147.9" font-size="13.5" textLength="190" lengthAdjust="spacingAndGlyphs">Journal Of Neurological Surger</text>
<text x="708" y="172.3" font-size="12" textLength="134" lengthAdjust="spacingAndGlyphs">Clinical Neurophysiology</text>
<text x="684" y="195.3" font-size="12" textLength="165" lengthAdjust="spacingAndGlyphs">Basic And Clinical Ocular Moto</text>
<text x="470" y="213.3" font-size="12" textLength="177" lengthAdjust="spacingAndGlyphs">European Review For Medical An</text>
<text x="128" y="241.5" font-size="12.5" textLength="124" lengthAdjust="spacingAndGlyphs">Neuroscience Letters</text>
<text x="262" y="260" font-size="28" textLength="269" lengthAdjust="spacingAndGlyphs">World Neurosurgery</text>
<text x="476" y="285.3" font-size="12" textLength="152" lengthAdjust="spacingAndGlyphs">Neuroendocrinology Letters</text>
<text x="684" y="297.7" font-size="13" textLength="142" lengthAdjust="spacingAndGlyphs">Journal Of Neuroscience</text>
<text x="323" y="308.4" font-size="15" textLength="201" lengthAdjust="spacingAndGlyphs">Interventional Neuroradiology</text>
<text x="901" y="316.3" font-size="12" textLength="173" lengthAdjust="spacingAndGlyphs">European Journal Of Medical Ge</text>
<text x="608" y="326.3" font-size="12" textLength="116" lengthAdjust="spacingAndGlyphs">Current Eye Research</text>
<text x="443" y="335.7" font-size="13" textLength="89" lengthAdjust="spacingAndGlyphs">Neurology Asia</text>
<text x="263" y="342.7" font-size="13" textLength="40" lengthAdjust="spacingAndGlyphs">Stroke</text>
<text x="1187" y="348.7" font-size="13" textLength="92" lengthAdjust="spacingAndGlyphs">Brain Pathology</text>
<text x="41" y="359.3" font-size="12" textLength="155" lengthAdjust="spacingAndGlyphs">Archives Of Iranian Medicine</text>
<text x="372" y="368.2" font-size="20" textLength="130" lengthAdjust="spacingAndGlyphs">Neurosurgery</text>
<text x="923" y="368.5" font-size="12.5" textLength="21" lengthAdjust="spacingAndGlyphs">Cell</text>
<text x="951" y="367" font-size="14" textLength="133" lengthAdjust="spacingAndGlyphs">Brain &amp; Development</text>
<text x="630" y="371.8" font-size="16" textLength="226" lengthAdjust="spacingAndGlyphs">Investigative Ophthalmology &amp;</text>
<text x="245" y="417.4" font-size="29" textLength="334" lengthAdjust="spacingAndGlyphs">Journal Of Neurosurgery</text>
<text x="604" y="404.4" font-size="15" textLength="112" lengthAdjust="spacingAndGlyphs">Neurology India</text>
<text x="1051" y="413" font-size="14" textLength="98" lengthAdjust="spacingAndGlyphs">Muscle &amp; Nerve</text>
<text x="810" y="420.3" font-size="12" textLength="89" lengthAdjust="spacingAndGlyphs">Molecular Vision</text>
<text x="207" y="445.8" font-size="16" textLength="140" lengthAdjust="spacingAndGlyphs">Surgical Neurology</text>
<text x="1147" y="440.4" font-size="15" textLength="102" lengthAdjust="spacingAndGlyphs">Neuropathology</text>
<text x="987" y="445" font-size="14" textLength="136" lengthAdjust="spacingAndGlyphs">Bmc Medical Genetics</text>
<text x="872" y="455" font-size="14" textLength="101" lengthAdjust="spacingAndGlyphs">Neuropediatrics</text>
<text x="433" y="469.9" font-size="22" textLength="335" lengthAdjust="spacingAndGlyphs">Journal Of Neuro-Ophthalmology</text>
<text x="910" y="476.3" font-size="12" textLength="112" lengthAdjust="spacingAndGlyphs">Annals Of Neurology</text>
<text x="1132" y="475.3" font-size="12" textLength="186" lengthAdjust="spacingAndGlyphs">Acta Neuropathologica Communic</text>
<text x="260" y="489.9" font-size="13.5" textLength="135" lengthAdjust="spacingAndGlyphs">Neurological Sciences</text>
<text x="1003" y="506.8" font-size="19" textLength="43" lengthAdjust="spacingAndGlyphs">Brain</text>
<text x="23" y="542.7" font-size="13" textLength="185" lengthAdjust="spacingAndGlyphs">Surgical And Radiologic Anatom</text>
<text x="357" y="531.5" font-size="18" textLength="248" lengthAdjust="spacingAndGlyphs">British Journal Of Neurosurger</text>
<text x="734" y="537.8" font-size="19" textLength="181" lengthAdjust="spacingAndGlyphs">Journal Of Neurology</text>
<text x="1116" y="527.1" font-size="17" textLength="86" lengthAdjust="spacingAndGlyphs">Cerebellum</text>
<text x="7" y="568.3" font-size="12" textLength="184" lengthAdjust="spacingAndGlyphs">Annals Of Anatomy-Anatomischer</text>
<text x="1005" y="547.4" font-size="15" textLength="97" lengthAdjust="spacingAndGlyphs">Neurogenetics</text>
<text x="345" y="573.2" font-size="14.5" textLength="151" lengthAdjust="spacingAndGlyphs">Childs Nervous System</text>
<text x="547" y="565.8" font-size="16" textLength="233" lengthAdjust="spacingAndGlyphs">Canadian Journal Of Neurologic</text>
<text x="1025" y="571.3" font-size="12" textLength="183" lengthAdjust="spacingAndGlyphs">Orphanet Journal Of Rare Disea</text>
<text x="865" y="591.2" font-size="20" textLength="90" lengthAdjust="spacingAndGlyphs">Neurology</text>
<text x="236" y="607.3" font-size="12" textLength="160" lengthAdjust="spacingAndGlyphs">Journal Of Endocrinological In</text>
<text x="479" y="618" font-size="28" textLength="218" lengthAdjust="spacingAndGlyphs">Journal Of Aapos</text>
<text x="906" y="616.3" font-size="12" textLength="179" lengthAdjust="spacingAndGlyphs">European Journal Of Paediatric</text>
<text x="243" y="637.3" font-size="12" textLength="93" lengthAdjust="spacingAndGlyphs">Ophthalmologica</text>
<text x="346" y="632.1" font-size="11.5" textLength="79" lengthAdjust="spacingAndGlyphs">Neurosciences</text>
<text x="44" y="647.3" font-size="12" textLength="135" lengthAdjust="spacingAndGlyphs">Annals Of Plastic Surgery</text>
<text x="522" y="664.7" font-size="13" textLength="188" lengthAdjust="spacingAndGlyphs">Acta Neurologica Scandinavica</text>
<text x="316" y="682.2" font-size="20" textLength="201" lengthAdjust="spacingAndGlyphs">Neuro-Ophthalmology</text>
<text x="791" y="680.8" font-size="16" textLength="187" lengthAdjust="spacingAndGlyphs">Journal Of Child Neurology</text>
<text x="1003" y="685.3" font-size="12" textLength="180" lengthAdjust="spacingAndGlyphs">Developmental Medicine And Chi</text>
<text x="51" y="693.6" font-size="15.5" textLength="220" lengthAdjust="spacingAndGlyphs">Ophthalmic Plastic And Reconst</text>
<text x="51" y="723.3" font-size="12" textLength="135" lengthAdjust="spacingAndGlyphs">Aesthetic Surgery Journal</text>
<text x="381" y="721.4" font-size="15" textLength="109" lengthAdjust="spacingAndGlyphs">Neuroradiology</text>
<text x="526" y="726" font-size="25" textLength="323" lengthAdjust="spacingAndGlyphs">Journal Of Clinical Neuroscien</text>
<text x="872" y="716.3" font-size="12" textLength="153" lengthAdjust="spacingAndGlyphs">Rheumatology International</text>
<text x="328" y="770" font-size="14" textLength="176" lengthAdjust="spacingAndGlyphs">International Journal Of Clini</text>
<text x="520" y="771.8" font-size="16" textLength="25" lengthAdjust="spacingAndGlyphs">Eye</text>
<text x="573" y="761.9" font-size="13.5" textLength="179" lengthAdjust="spacingAndGlyphs">Journal Of Clinical Neurology</text>
<text x="651" y="782.5" font-size="12.5" textLength="135" lengthAdjust="spacingAndGlyphs">Pediatric Neurosurgery</text>
<text x="877" y="780" font-size="14" textLength="107" lengthAdjust="spacingAndGlyphs">Scientific Reports</text>
<text x="734" y="810.6" font-size="15.5" textLength="137" lengthAdjust="spacingAndGlyphs">Pediatric Neurology</text>
<text x="888" y="819.3" font-size="12" textLength="149" lengthAdjust="spacingAndGlyphs">Journal Of Clinical Medicine</text>
<text x="450" y="822.4" font-size="15" textLength="219" lengthAdjust="spacingAndGlyphs">Journal Of Pediatric Ophthalmo</text>
<text x="245" y="842.7" font-size="13" textLength="155" lengthAdjust="spacingAndGlyphs">Veterinary Ophthalmology</text>
<text x="214" y="872.3" font-size="12" textLength="162" lengthAdjust="spacingAndGlyphs">Journal Of Small Animal Practi</text>
<text x="512" y="866" font-size="14" textLength="55" lengthAdjust="spacingAndGlyphs">Plos One</text>
<text x="512" y="889.7" font-size="13" textLength="182" lengthAdjust="spacingAndGlyphs">Clinical And Experimental Opht</text>
<text x="768" y="886.3" font-size="12" textLength="147" lengthAdjust="spacingAndGlyphs">Journal Of Neuro-Oncology</text>
<text x="455" y="942.3" font-size="12" textLength="107" lengthAdjust="spacingAndGlyphs">Neurorehabilitation</text>
<text x="677" y="944" font-size="14" textLength="153" lengthAdjust="spacingAndGlyphs">Acta Neurologica Belgica</text>
</g>
</svg>
